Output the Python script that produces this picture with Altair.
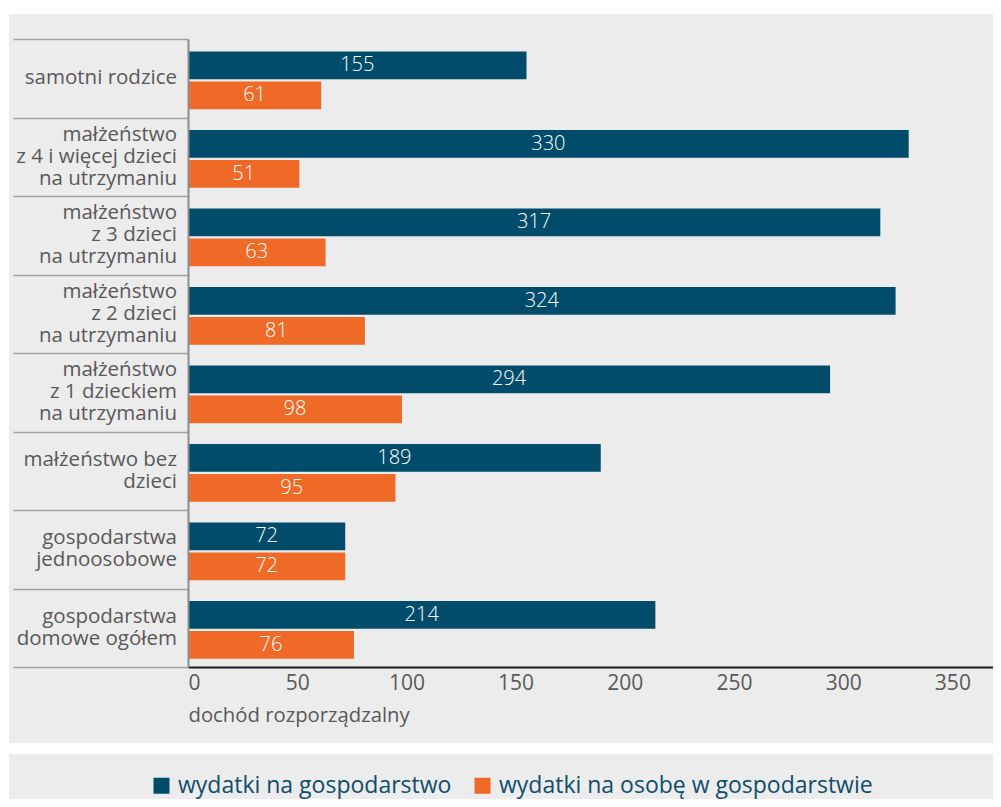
import altair as alt
import pandas as pd

categories = [
    "samotni rodzice",
    "małżeństwo|z 4 i więcej dzieci|na utrzymaniu",
    "małżeństwo|z 3 dzieci|na utrzymaniu",
    "małżeństwo|z 2 dzieci|na utrzymaniu",
    "małżeństwo|z 1 dzieckiem|na utrzymaniu",
    "małżeństwo bez|dzieci",
    "gospodarstwa|jednoosobowe",
    "gospodarstwa|domowe ogółem",
]
household = [155, 330, 317, 324, 294, 189, 72, 214]
per_person = [61, 51, 63, 81, 98, 95, 72, 76]
series = ["wydatki na gospodarstwo", "wydatki na osobę w gospodarstwie"]
colors = ["#004C6A", "#EE6A26"]
x_ticks = [0, 50, 100, 150, 200, 250, 300, 350]
x_title = "dochód rozporządzalny"

rows = []
for c, a, b in zip(categories, household, per_person):
    rows.append({"kat": c, "seria": series[0], "wartosc": a})
    rows.append({"kat": c, "seria": series[1], "wartosc": b})
df = pd.DataFrame(rows)
cat_df = pd.DataFrame({"kat": categories})

W, H = 805, 628
FONT = "Open Sans"
GRAY_TXT = "#595959"
PANEL = "#ECECEC"
LINE_H = 22
HALF_BAND = H / len(categories) / 2

y_scale = alt.Scale(paddingInner=0, paddingOuter=0)

y_enc = alt.Y(
    "kat:N",
    sort=categories,
    title=None,
    scale=y_scale,
    axis=alt.Axis(
        labels=False,
        tickBand="extent",
        tickSize=175,
        tickColor="#A0A0A0",
        tickWidth=1.5,
        domainColor="#8C8C8C",
        domainWidth=2,
        grid=False,
        zindex=1,
    ),
)
yoff = alt.YOffset(
    "seria:N", sort=series,
    scale=alt.Scale(paddingInner=0.077, paddingOuter=0.343, align=0.6),
)

x_enc = alt.X(
    "wartosc:Q",
    scale=alt.Scale(domain=[0, 368.6], nice=False),
    axis=alt.Axis(
        values=x_ticks,
        title=x_title,
        titleFont=FONT,
        titleFontSize=20.3,
        titleFontWeight="normal",
        titleColor=GRAY_TXT,
        titleAnchor="start",
        titleAlign="left",
        titlePadding=12,
        labelFont=FONT,
        labelFontSize=21,
        labelColor=GRAY_TXT,
        labelPadding=5,
        ticks=False,
        grid=False,
        domainColor="#1A1A1A",
        domainWidth=2,
        zindex=1,
    ),
)

panel_df = pd.DataFrame({"p": [0]})
main_panel = alt.Chart(panel_df).mark_rect(color=PANEL).encode(
    x=alt.value(-179), x2=alt.value(W + 10), y=alt.value(-25), y2=alt.value(704)
)
legend_panel = alt.Chart(panel_df).mark_rect(color=PANEL).encode(
    x=alt.value(-179), x2=alt.value(W + 10), y=alt.value(715), y2=alt.value(780)
)

bars = alt.Chart(df).mark_bar().encode(
    x=x_enc,
    y=y_enc,
    yOffset=yoff,
    color=alt.Color(
        "seria:N",
        scale=alt.Scale(domain=series, range=colors),
        legend=alt.Legend(
            orient="none",
            legendX=-38,
            legendY=735,
            direction="horizontal",
            title=None,
            symbolType="square",
            symbolSize=256,
            symbolStrokeWidth=0,
            symbolOpacity=1,
            labelFont=FONT,
            labelFontSize=23,
            labelColor="#0E4D6B",
            labelLimit=600,
            labelOffset=5,
            columnPadding=19,
            padding=0,
        ),
    ),
)

labels = (
    alt.Chart(df)
    .transform_calculate(mid="datum.wartosc / 2")
    .mark_text(color="white", font=FONT, fontSize=20, fontWeight=300, baseline="middle")
    .encode(
        x=alt.X("mid:Q"),
        y=alt.Y("kat:N", sort=categories),
        yOffset=alt.YOffset("seria:N", sort=series),
        text=alt.Text("wartosc:Q"),
    )
)

cat_labels = (
    alt.Chart(cat_df)
    .transform_calculate(
        shift="%f - (length(split(datum.kat, '|')) - 1) * %d / 2" % (HALF_BAND, LINE_H)
    )
    .mark_text(
        align="right",
        baseline="middle",
        font=FONT,
        fontSize=20.5,
        color=GRAY_TXT,
        lineBreak="|",
        lineHeight=LINE_H,
    )
    .encode(
        x=alt.value(-11),
        y=alt.Y("kat:N", sort=categories, scale=y_scale),
        yOffset=alt.YOffset("shift:Q", scale=None),
        text=alt.Text("kat:N"),
    )
)

chart = (
    alt.layer(main_panel, legend_panel, bars, labels, cat_labels)
    .properties(
        width=W,
        height=H,
        autosize=alt.AutoSizeParams(type="none"),
        padding={"left": 180, "top": 31, "right": 0, "bottom": 132},
        background="white",
    )
    .configure_view(stroke="transparent")
)

chart.save("out.html", embed_options={"renderer": "svg", "actions": False})
